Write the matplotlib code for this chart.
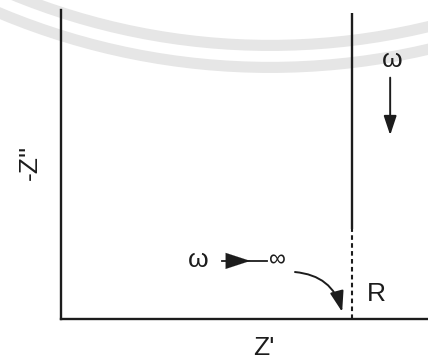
import numpy as np
import matplotlib
matplotlib.use("Agg")
import matplotlib.pyplot as plt
from matplotlib.patches import Arc
from matplotlib.transforms import IdentityTransform

plt.rcParams['font.family'] = ['Liberation Sans', 'DejaVu Sans']

# Nyquist plot of an ideal R-C series circuit (arbitrary units, R = 1)
R = 1.0
z_real_solid = [R, R]
z_imag_solid = [0.29, 0.99]     # -Z'' along the capacitive line
z_real_dash = [R, R]
z_imag_dash = [0.0, 0.29]

ink = "#1c1c1c"

fig = plt.figure(figsize=(4.28, 3.63), dpi=100)

# faint scanned watermark arcs (pixel coordinates)
for r in (678, 700):
    fig.patches.append(Arc((270, 363 + 632.6), 2 * r, 2 * r, theta1=180, theta2=360,
                           transform=IdentityTransform(), color="#e6e6e6",
                           lw=8, zorder=0))

ax = fig.add_axes([61 / 428, 44 / 363, 367 / 428, 309 / 363])
ax.set_zorder(2)
ax.patch.set_alpha(0)
ax.set_xlim(0, 1.261)
ax.set_ylim(0, 1)

ax.plot(z_real_solid, z_imag_solid, color=ink, lw=1.7, solid_capstyle="butt")
ax.plot(z_real_dash, z_imag_dash, color=ink, lw=1.5, dashes=[2.2, 1.6])

for s in ("top", "right"):
    ax.spines[s].set_visible(False)
for s in ("left", "bottom"):
    ax.spines[s].set_color(ink)
    ax.spines[s].set_linewidth(1.7)
ax.set_xticks([])
ax.set_yticks([])

# axis labels
ax.text(0.698, -0.095, "Z'", fontsize=19, color=ink, ha="center", va="center",
        clip_on=False)
ax.text(-0.084, 0.508, "-Z''", transform=ax.transAxes, fontsize=19, color=ink,
        rotation=90, ha="center", va="center", clip_on=False)

# low frequency direction
ax.text(1.137, 0.838, "ω", fontsize=19, color=ink, ha="center", va="center")
ax.annotate("", xy=(1.131, 0.586), xytext=(1.131, 0.79),
            arrowprops=dict(arrowstyle="-|>,head_length=0.9,head_width=0.3",
                            mutation_scale=13, color=ink, lw=1.4))

# high frequency limit
ax.text(0.471, 0.190, "ω", fontsize=19, color=ink, ha="center", va="center")
ax.plot([0.553, 0.708], [0.188, 0.188], color=ink, lw=1.3)
ax.annotate("", xy=(0.66, 0.188), xytext=(0.58, 0.188),
            arrowprops=dict(arrowstyle="-|>,head_length=1.1,head_width=0.36",
                            mutation_scale=16, color=ink, lw=0.1))
ax.text(0.742, 0.191, "∞", fontsize=17, color=ink, ha="center", va="center")
ax.annotate("", xy=(0.966, 0.023), xytext=(0.804, 0.152),
            arrowprops=dict(arrowstyle="-|>,head_length=0.9,head_width=0.3",
                            mutation_scale=14, color=ink, lw=1.4,
                            connectionstyle="arc3,rad=-0.35",
                            shrinkA=0, shrinkB=0))

ax.text(1.082, 0.081, "R", fontsize=19, color=ink, ha="center", va="center")

fig.savefig("out.png", dpi=100)
